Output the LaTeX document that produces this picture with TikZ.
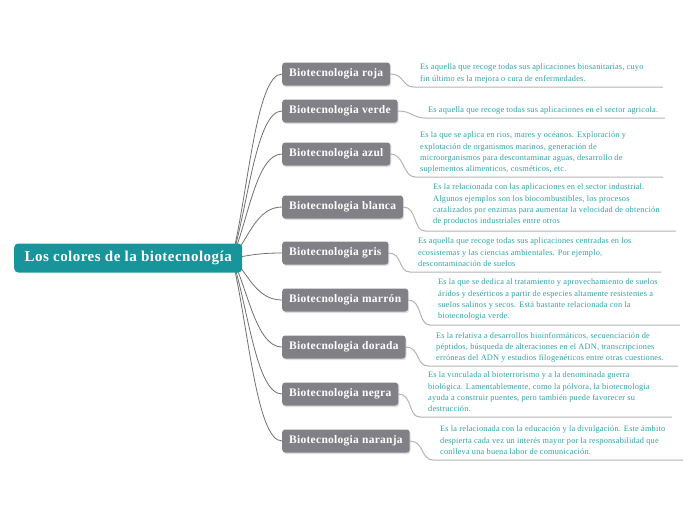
\documentclass[tikz,border=0pt]{standalone}
\usepackage{fontspec}
\setmainfont{Liberation Serif}
\usetikzlibrary{shadows,backgrounds}
\definecolor{rootfill}{HTML}{17959B}
\definecolor{branchfill}{HTML}{808086}
\definecolor{desccol}{HTML}{2AA2A4}
\definecolor{edgecol}{HTML}{707070}
\definecolor{ulcol}{HTML}{B4B4B4}
\tikzset{
  rootbox/.style={fill=rootfill, text=white, rounded corners=4pt, minimum height=29pt, minimum width=228pt, inner xsep=7pt, inner ysep=0pt, font=\fontsize{15}{17}\selectfont\bfseries\addfontfeature{LetterSpace=3.2}, anchor=west},
  branchbox/.style={fill=branchfill, text=white, rounded corners=3pt, minimum height=23pt, inner xsep=7pt, inner ysep=0pt, font=\fontsize{11.5}{13}\selectfont\bfseries\addfontfeature{LetterSpace=2.4}, anchor=west, drop shadow={opacity=0.25, shadow xshift=1pt, shadow yshift=-1.5pt}},
  desc/.style={text=desccol, align=left, inner sep=0pt, anchor=north west, font=\fontsize{8.3}{11.3}\selectfont\addfontfeature{LetterSpace=2.4}},
  mainedge/.style={draw=edgecol, line width=0.8pt},
  subedge/.style={draw=ulcol, line width=1pt},
}
\begin{document}
\begin{tikzpicture}[x=1pt,y=-1pt]
\useasboundingbox (0,0) rectangle (696,520);
\node[rootbox] (root) at (14,258) {Los colores de la biotecnología};
\coordinate (rs) at (232,258);

\node[branchbox] (roja) at (282,74) {Biotecnologia roja};
\node[branchbox] (verde) at (282,111) {Biotecnologia verde};
\node[branchbox] (azul) at (282,154) {Biotecnologia azul};
\node[branchbox] (blanca) at (282,207) {Biotecnologia blanca};
\node[branchbox] (gris) at (282,253) {Biotecnologia gris};
\node[branchbox] (marron) at (282,300) {Biotecnologia marrón};
\node[branchbox] (dorada) at (282,347) {Biotecnologia dorada};
\node[branchbox] (negra) at (282,394) {Biotecnologia negra};
\node[branchbox] (naranja) at (282,441) {Biotecnologia naranja};

\node[desc] (d1) at (420,64) {Es aquella que recoge todas sus aplicaciones biosanitarias, cuyo\\fin último es la mejora o cura de enfermedades.};
\node[desc] (d2) at (428,107) {Es aquella que recoge todas sus aplicaciones en el sector agricola.};
\node[desc] (d3) at (420,132) {Es la que se aplica en rios, mares y océanos. Exploración y\\explotación de organismos marinos, generación de\\microorganismos para descontaminar aguas, desarrollo de\\suplementos alimenticos, cosméticos, etc.};
\node[desc] (d4) at (433,184) {Es la relacionada con las aplicaciones en el sector industrial.\\Algunos ejemplos son los biocombustibles, los procesos\\catalizados por enzimas para aumentar la velocidad de obtención\\de productos industriales entre otros};
\node[desc] (d5) at (418,238) {Es aquella que recoge todas sus aplicaciones centradas en los\\ecosistemas y las ciencias ambientales. Por ejemplo,\\descontaminación de suelos};
\node[desc] (d6) at (438,279) {Es la que se dedica al tratamiento y aprovechamiento de suelos\\áridos y desérticos a partir de especies altamente resistentes a\\suelos salinos y secos. Está bastante relacionada con la\\biotecnologia verde.};
\node[desc] (d7) at (436,332) {Es la relativa a desarrollos bioinformáticos, secuenciación de\\péptidos, búsqueda de alteraciones en el ADN, transcripciones\\erróneas del ADN y estudios filogenéticos entre otras cuestiones.};
\node[desc] (d8) at (428,372) {Es la vinculada al bioterrorismo y a la denominada guerra\\biológica. Lamentablemente, como la pólvora, la biotecnologia\\ayuda a construir puentes, pero también puede favorecer su\\destrucción.};
\node[desc] (d9) at (440,426) {Es la relacionada con la educación y la divulgación. Este ámbito\\despierta cada vez un interés mayor por la responsabilidad que\\conlleva una buena labor de comunicación.};

\coordinate (u1s) at (414,87);  \coordinate (u1e) at (663,87);
\coordinate (u2s) at (425,118); \coordinate (u2e) at (665,118);
\coordinate (u3s) at (415,177); \coordinate (u3e) at (663,177);
\coordinate (u4s) at (425,231); \coordinate (u4e) at (676,231);
\coordinate (u5s) at (410,272); \coordinate (u5e) at (661,272);
\coordinate (u6s) at (430,325); \coordinate (u6e) at (680,325);
\coordinate (u7s) at (428,366); \coordinate (u7e) at (678,366);
\coordinate (u8s) at (420,417); \coordinate (u8e) at (672,417);
\coordinate (u9s) at (433,460); \coordinate (u9e) at (683,460);

\begin{pgfonlayer}{background}
\draw[mainedge] (rs) .. controls (248,194) and (256,74) .. (roja.west);
\draw[mainedge] (rs) .. controls (248,207) and (256,111) .. (verde.west);
\draw[mainedge] (rs) .. controls (248,222) and (256,154) .. (azul.west);
\draw[mainedge] (rs) .. controls (248,240) and (256,207) .. (blanca.west);
\draw[mainedge] (rs) .. controls (248,256) and (256,253) .. (gris.west);
\draw[mainedge] (rs) .. controls (248,273) and (256,300) .. (marron.west);
\draw[mainedge] (rs) .. controls (248,289) and (256,347) .. (dorada.west);
\draw[mainedge] (rs) .. controls (248,306) and (256,394) .. (negra.west);
\draw[mainedge] (rs) .. controls (248,322) and (256,441) .. (naranja.west);

\draw[subedge] (roja.east) .. controls +(14,0) and +(-12,0) .. (u1s) -- (u1e);
\draw[subedge] (verde.east) .. controls +(14,0) and +(-12,0) .. (u2s) -- (u2e);
\draw[subedge] (azul.east) .. controls +(14,0) and +(-12,0) .. (u3s) -- (u3e);
\draw[subedge] (blanca.east) .. controls +(14,0) and +(-12,0) .. (u4s) -- (u4e);
\draw[subedge] (gris.east) .. controls +(14,0) and +(-12,0) .. (u5s) -- (u5e);
\draw[subedge] (marron.east) .. controls +(14,0) and +(-12,0) .. (u6s) -- (u6e);
\draw[subedge] (dorada.east) .. controls +(14,0) and +(-12,0) .. (u7s) -- (u7e);
\draw[subedge] (negra.east) .. controls +(14,0) and +(-12,0) .. (u8s) -- (u8e);
\draw[subedge] (naranja.east) .. controls +(14,0) and +(-12,0) .. (u9s) -- (u9e);
\end{pgfonlayer}
\end{tikzpicture}
\end{document}
